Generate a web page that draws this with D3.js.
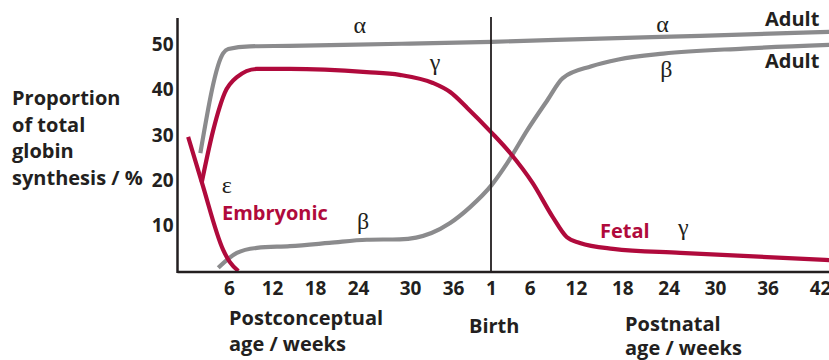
<!DOCTYPE html>
<html>
<head>
<meta charset="utf-8">
<script src="https://cdn.jsdelivr.net/npm/d3@7/dist/d3.min.js"></script>
<style>
  html, body { margin: 0; padding: 0; background: #ffffff; }
  svg { display: block; }
  .lbl { font-family: "Open Sans", "Noto Sans", sans-serif; font-weight: 700; }
  .greek { font-family: "Liberation Serif", "DejaVu Serif", serif; }
</style>
</head>
<body>
<svg id="chart" width="829" height="360"></svg>
<script>
// Age runs on one timeline in weeks since conception; birth sits at week 40,
// and postnatal week p is placed at 39 + p so that "1" falls on the birth line.
const BIRTH = 40;
const prenatalTicks = [6, 12, 18, 24, 30, 36];
const postnatalTicks = [1, 6, 12, 18, 24, 30, 36, 42];
const yTicks = [10, 20, 30, 40, 50];

// Globin chain synthesis, % of total, as [age on timeline, value]
const alphaChain = [
  [2.0, 26.0], [5.2, 48.1], [5.9, 49.0], [8.9, 49.6], [14.5, 49.7],
  [22.0, 49.9], [30.0, 50.2], [40.1, 50.6], [54.1, 51.3], [67.1, 51.9], [82.1, 52.8]
];
const gammaChain = [
  [2.2, 19.6], [3.8, 31.1], [4.7, 36.2], [5.4, 39.3], [7.1, 42.8],
  [9.9, 44.6], [14.5, 44.6], [25.0, 43.9], [28.8, 43.3], [33.2, 41.5],
  [35.6, 39.5], [37.5, 36.0], [40.1, 30.5], [42.5, 26.0], [45.4, 19.4],
  [48.0, 11.9], [49.8, 7.5], [51.5, 6.2], [55.8, 4.9], [64.5, 4.0], [82.1, 2.4]
];
const epsilonChain = [
  [0.3, 29.6], [2.2, 19.6], [5.2, 4.6], [6.1, 2.0], [7.3, 0.0]
];
const betaChain = [
  [4.5, 0.7], [7.1, 4.0], [9.9, 5.1], [14.5, 5.5], [20.0, 6.2], [25.0, 6.9],
  [28.8, 7.0], [33.0, 8.4], [35.6, 10.6], [37.8, 14.1], [40.1, 19.0],
  [42.1, 23.8], [44.7, 31.1], [47.3, 37.7], [49.3, 42.6], [53.0, 45.2],
  [56.5, 46.7], [62.3, 48.0], [72.3, 49.1], [82.1, 49.9]
];

const INK = "#231f20";
const GREY = "#8b8b8d";
const RED = "#b00a3c";

const svg = d3.select("#chart");
svg.append("rect").attr("width", 829).attr("height", 360).attr("fill", "#fff");

// The age axis is hand-spaced, so the scale is piecewise linear between landmarks.
const x = d3.scaleLinear()
  .domain([6, 24, 30, 36, BIRTH, 69, 81])
  .range([229, 358, 410, 453, 491, 715, 820]);
const y = d3.scaleLinear().domain([0, 50]).range([271, 44.5]);

const plotLeft = 177.5, plotBottom = 272, plotTop = 18, plotRight = 829;

const tickPositions = prenatalTicks.concat(postnatalTicks.map(p => BIRTH - 1 + p));
const tickLabels = prenatalTicks.concat(postnatalTicks).map(String);

// curves
const line = d3.line()
  .x(d => x(d[0]))
  .y(d => y(d[1]))
  .curve(d3.curveMonotoneX);

const series = [
  { data: betaChain, color: GREY },
  { data: alphaChain, color: GREY },
  { data: epsilonChain, color: RED },
  { data: gammaChain, color: RED }
];
svg.append("g").selectAll("path").data(series).join("path")
  .attr("d", d => line(d.data))
  .attr("fill", "none")
  .attr("stroke", d => d.color)
  .attr("stroke-width", 4.2)
  .attr("stroke-linejoin", "round");

// axes
svg.append("line")
  .attr("x1", plotLeft).attr("x2", plotLeft)
  .attr("y1", plotTop).attr("y2", plotBottom + 1)
  .attr("stroke", INK).attr("stroke-width", 2.5);
svg.append("line")
  .attr("x1", plotLeft).attr("x2", plotRight)
  .attr("y1", plotBottom).attr("y2", plotBottom)
  .attr("stroke", INK).attr("stroke-width", 2.5);
svg.append("line")
  .attr("x1", x(BIRTH)).attr("x2", x(BIRTH))
  .attr("y1", plotTop - 1).attr("y2", plotBottom)
  .attr("stroke", INK).attr("stroke-width", 1.8);

const yAxis = svg.append("g")
  .attr("transform", `translate(${plotLeft - 4},0)`)
  .call(d3.axisLeft(y).tickValues(yTicks).tickSize(0).tickPadding(0));
yAxis.select(".domain").remove();
yAxis.selectAll("text").attr("class", "lbl").attr("font-size", 19).attr("fill", INK);

const xAxis = svg.append("g")
  .attr("transform", `translate(0,${plotBottom})`)
  .call(d3.axisBottom(x).tickValues(tickPositions)
    .tickFormat((d, i) => tickLabels[i]).tickSize(0).tickPadding(9.5));
xAxis.select(".domain").remove();
xAxis.selectAll("text").attr("class", "lbl").attr("font-size", 19).attr("fill", INK);

// titles
function block(lines, px, py, size, step, color) {
  const t = svg.append("text").attr("class", "lbl")
    .attr("x", px).attr("y", py).attr("font-size", size)
    .attr("fill", color || INK);
  lines.forEach((s, i) => t.append("tspan").attr("x", px).attr("dy", i ? step : 0).text(s));
  return t;
}
block(["Proportion", "of total", "globin", "synthesis / %"], 12, 105, 20, 26.5);
block(["Postconceptual", "age / weeks"], 229, 325, 20, 26);
block(["Birth"], 469, 333, 20, 0);
block(["Postnatal", "age / weeks"], 625, 331, 20, 24);
block(["Adult"], 765, 26, 20, 0);
block(["Adult"], 765, 68, 20, 0);
block(["Embryonic"], 222, 220, 20, 0, RED);
block(["Fetal"], 600, 238, 20, 0, RED);

// chain labels, placed at [age, value] of their baseline
const greekLabels = [
  { s: "α", age: 24.2, v: 52.5 },
  { s: "α", age: 62.2, v: 52.8 },
  { s: "γ", age: 33.5, v: 44.4 },
  { s: "β", age: 62.7, v: 42.8 },
  { s: "ε", age: 5.7, v: 17.2 },
  { s: "β", age: 24.6, v: 9.3 },
  { s: "γ", age: 64.9, v: 7.9 }
];
svg.append("g").selectAll("text").data(greekLabels).join("text")
  .attr("class", "greek")
  .attr("fill", INK)
  .attr("x", d => x(d.age)).attr("y", d => y(d.v))
  .attr("text-anchor", "middle")
  .attr("font-size", 24)
  .text(d => d.s);
</script>
</body>
</html>
